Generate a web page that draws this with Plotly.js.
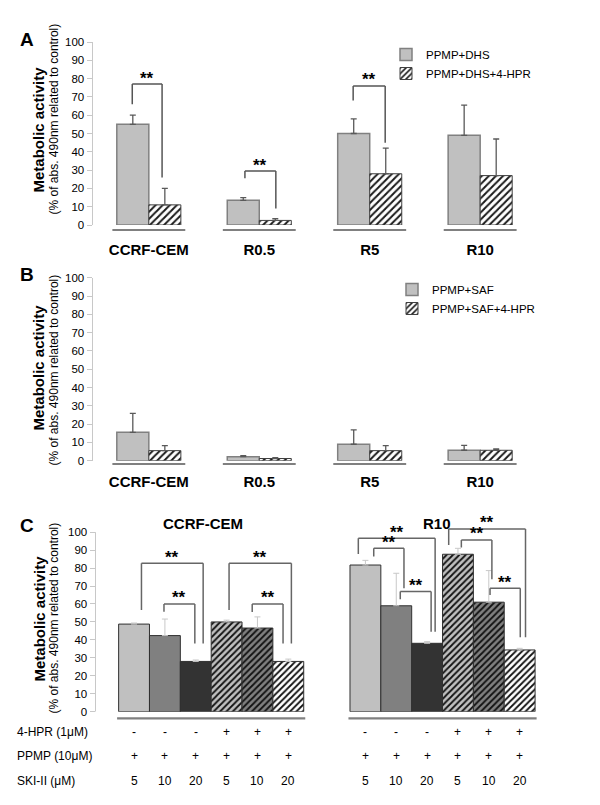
<!DOCTYPE html>
<html>
<head>
<meta charset="utf-8">
<script src="https://cdn.plot.ly/plotly-3.0.1.min.js"></script>
<style>
  html, body { margin: 0; padding: 0; background: #fff; }
  #chart { width: 600px; height: 805px; }
</style>
</head>
<body>
<div id="chart"></div>
<script>
// Panels A and B: cell lines
const cellLines = ['CCRF-CEM', 'R0.5', 'R5', 'R10'];

// A: PPMP+DHS with / without 4-HPR (mean, upper SD)
const dhs = [55, 13.5, 50, 49];
const dhsErr = [5, 1.5, 8, 16.5];
const dhsHpr = [11, 2.5, 28, 27];
const dhsHprErr = [9, 1, 14, 20];

// B: PPMP+SAF with / without 4-HPR
const saf = [15.5, 2.2, 9, 5.7];
const safErr = [10.4, 0.6, 7.8, 2.7];
const safHpr = [5.5, 1.2, 5.5, 5.7];
const safHprErr = [2.7, 0.4, 2.7, 0.7];

// C: six treatments in two cell lines
const groupsC = ['CCRF-CEM', 'R10'];
const hprRow = ['-', '-', '-', '+', '+', '+'];
const ppmpRow = ['+', '+', '+', '+', '+', '+'];
const skiRow = ['5', '10', '20', '5', '10', '20'];
const ccrfC = [48.8, 42.4, 28, 50, 46.6, 28];
const ccrfCErr = [0.6, 9.2, 0.8, 1, 6.2, 1.3];
const r10C = [81.7, 59, 38.1, 87.7, 61, 34.4];
const r10CErr = [2.6, 18.1, 0.9, 3.3, 17.6, 0.9];

// significance brackets: [left x, right x, top, left leg end, right leg end]
const sigA = [
  [-0.15, 0.12, 77, 66, 26],
  [0.87, 1.15, 29.5, 25.5, 9],
  [1.85, 2.14, 76, 68, 45]
];
const sigC = [
  [0.24, 2.24, 82.7, 56.7, 38], [0.97, 1.97, 60, 55.7, 38],
  [3.08, 5.1, 82.7, 56.7, 38], [3.83, 4.83, 60, 55.5, 38],
  [7.27, 9.76, 96.6, 87.9, 44.6], [7.77, 8.75, 91, 86.4, 68.7], [8.63, 9.63, 66.9, 62.6, 44.6],
  [10.2, 12.69, 101.8, 92.9, 41.4], [10.61, 11.6, 95.7, 91.4, 73.8], [11.54, 12.52, 68.7, 65, 41.4]
];

const FONT = 'Arial, "Liberation Sans", sans-serif';
const W = 600, H = 805;
const px = v => v / W;
const py = v => 1 - v / H;
const GROUP_GAP = 7.5; // distance between the two groups in panel C

const grayBar = {color: '#c0c0c0', line: {color: '#808080', width: 1.5}};
const hatchBar = {color: '#ffffff', line: {color: '#404040', width: 1},
  pattern: {shape: '/', fgcolor: '#1a1a1a', bgcolor: '#ffffff', size: 5, solidity: 0.4}};
function errs(arr) {
  return {type: 'data', symmetric: false, array: arr, arrayminus: arr.map(() => 0),
    color: '#595959', thickness: 1.3, width: 3};
}

const traces = [
  {type: 'bar', name: 'PPMP+DHS', x: cellLines, y: dhs, error_y: errs(dhsErr),
   marker: grayBar, xaxis: 'x', yaxis: 'y', legend: 'legend'},
  {type: 'bar', name: 'PPMP+DHS+4-HPR', x: cellLines, y: dhsHpr, error_y: errs(dhsHprErr),
   marker: hatchBar, xaxis: 'x', yaxis: 'y', legend: 'legend'},
  {type: 'bar', name: 'PPMP+SAF', x: cellLines, y: saf, error_y: errs(safErr),
   marker: grayBar, xaxis: 'x2', yaxis: 'y2', legend: 'legend2'},
  {type: 'bar', name: 'PPMP+SAF+4-HPR', x: cellLines, y: safHpr, error_y: errs(safHprErr),
   marker: hatchBar, xaxis: 'x2', yaxis: 'y2', legend: 'legend2'}
];

// panel C bar styles, one per treatment
const fillC = ['#c0c0c0', '#808080', '#333333', '#c0c0c0', '#808080', '#ffffff'];
const shapeC = ['', '', '', '/', '/', '/'];
skiRow.forEach((s, i) => {
  traces.push({
    type: 'bar', x: [i, i + GROUP_GAP], y: [ccrfC[i], r10C[i]],
    width: 1, offset: -0.5, xaxis: 'x3', yaxis: 'y3', showlegend: false,
    marker: {color: fillC[i], line: {color: '#303030', width: 1},
      pattern: {shape: shapeC[i], fgcolor: '#111111', bgcolor: fillC[i], size: 4.5, solidity: 0.4}},
    error_y: {type: 'data', symmetric: false, array: [ccrfCErr[i], r10CErr[i]], arrayminus: [0, 0],
      color: '#c8c8c8', thickness: 1, width: 3}
  });
});

const shapes = [];
const annotations = [];
function note(o) {
  annotations.push(Object.assign({showarrow: false, xanchor: 'center', yanchor: 'middle'}, o));
}

function bracket(b, xr, yr, col) {
  const ln = {color: col, width: 1.5};
  shapes.push({type: 'line', xref: xr, yref: yr, x0: b[0], x1: b[0], y0: b[3], y1: b[2], line: ln});
  shapes.push({type: 'line', xref: xr, yref: yr, x0: b[0], x1: b[1], y0: b[2], y1: b[2], line: ln});
  shapes.push({type: 'line', xref: xr, yref: yr, x0: b[1], x1: b[1], y0: b[2], y1: b[4], line: ln});
  note({xref: xr, yref: yr, x: (b[0] + b[1]) / 2, y: b[2], yshift: 6, text: '**',
    font: {size: 17, weight: 'bold', color: '#000'}});
}
sigA.forEach(b => bracket(b, 'x', 'y', '#555555'));
sigC.forEach(b => bracket(b, 'x3', 'y3', '#666666'));

// category underlines
const underline = {color: '#808080', width: 2.2};
cellLines.forEach((c, i) => {
  shapes.push({type: 'line', xref: 'x', yref: 'paper', x0: i - 0.33, x1: i + 0.33, y0: py(230), y1: py(230), line: underline});
  shapes.push({type: 'line', xref: 'x2', yref: 'paper', x0: i - 0.33, x1: i + 0.33, y0: py(464), y1: py(464), line: underline});
});
groupsC.forEach((g, k) => {
  const s = k * GROUP_GAP;
  shapes.push({type: 'line', xref: 'x3', yref: 'paper', x0: s - 0.55, x1: s + 5.55, y0: py(718.3), y1: py(718.3), line: underline});
});
// y axis line for C (axis range extends above 100 for the brackets)
shapes.push({type: 'line', xref: 'paper', yref: 'y3', x0: px(95.5), x1: px(95.5), y0: 0, y1: 100,
  line: {color: '#c8c8c8', width: 1}});

// panel letters and y titles
[['A', 40], ['B', 274], ['C', 525]].forEach(([t, y]) => {
  note({xref: 'paper', yref: 'paper', x: px(27.5), y: py(y), text: t,
    font: {size: 19, weight: 'bold', color: '#000'}});
});
[[130, 119], [368, 370], [619, 618]].forEach(([yb, yr]) => {
  note({xref: 'paper', yref: 'paper', x: px(38.5), y: py(yb), textangle: -90,
    text: 'Metabolic activity', font: {size: 15, weight: 'bold', color: '#000'}});
  note({xref: 'paper', yref: 'paper', x: px(53.5), y: py(yr), textangle: -90,
    text: '(% of abs. 490nm related to control)', font: {size: 12, color: '#000'}});
});

// panel C group titles
[[203, groupsC[0]], [437, groupsC[1]]].forEach(([x, t]) => {
  note({xref: 'paper', yref: 'paper', x: px(x), y: py(523), text: t,
    font: {size: 15, weight: 'bold', color: '#000'}});
});

// panel C treatment table
const rows = [['4-HPR (1\u03bcM)', hprRow, 731.7], ['PPMP (10\u03bcM)', ppmpRow, 756], ['SKI-II (\u03bcM)', skiRow, 781]];
rows.forEach(([label, vals, y]) => {
  note({xref: 'paper', yref: 'paper', x: px(15), y: py(y), xanchor: 'left', text: label,
    font: {size: 12, color: '#000'}});
  groupsC.forEach((g, k) => {
    vals.forEach((v, i) => {
      note({xref: 'x3', yref: 'paper', x: i + k * GROUP_GAP, y: py(y), text: v,
        font: {size: 12, color: '#000'}});
    });
  });
});

const yBase = {
  range: [0, 100], dtick: 10, showgrid: false, zeroline: false, showline: true,
  linecolor: '#c8c8c8', linewidth: 1, ticks: 'outside', ticklen: 5, tickcolor: '#c8c8c8',
  tickfont: {size: 11.5, color: '#000'}
};
const xCat = {
  type: 'category', range: [-0.51, 3.51], showgrid: false, zeroline: false, showline: false,
  ticks: '', tickfont: {size: 15, weight: 'bold', color: '#000'}
};
const legendBase = {xanchor: 'left', yanchor: 'top', bgcolor: 'rgba(0,0,0,0)',
  font: {size: 11.5, color: '#000'}, itemclick: false};

const layout = {
  width: W, height: H,
  margin: {l: 0, r: 0, t: 0, b: 0},
  paper_bgcolor: '#fff', plot_bgcolor: 'rgba(0,0,0,0)',
  font: {family: FONT, color: '#000'},
  barmode: 'group', bargap: 0.42, bargroupgap: 0,
  showlegend: true,
  xaxis: Object.assign({}, xCat, {domain: [px(92.5), px(536.5)], anchor: 'y', ticklabelstandoff: 14}),
  yaxis: Object.assign({}, yBase, {domain: [py(225), py(42)], anchor: 'x'}),
  xaxis2: Object.assign({}, xCat, {domain: [px(92.5), px(536.5)], anchor: 'y2', ticklabelstandoff: 10}),
  yaxis2: Object.assign({}, yBase, {domain: [py(460.7), py(277.7)], anchor: 'x2'}),
  xaxis3: {domain: [px(95.5), px(550.5)], range: [-1.25, 13.5], anchor: 'y3',
    showgrid: false, zeroline: false, showline: false, showticklabels: false, ticks: ''},
  yaxis3: Object.assign({}, yBase, {domain: [py(711.7), py(517.8)], range: [0, 108],
    showline: false, anchor: 'x3'}),
  legend: Object.assign({}, legendBase, {x: px(386), y: py(40)}),
  legend2: Object.assign({}, legendBase, {x: px(392), y: py(275)}),
  shapes: shapes,
  annotations: annotations
};

Plotly.newPlot('chart', traces, layout, {displayModeBar: false, staticPlot: true});
</script>
</body>
</html>
